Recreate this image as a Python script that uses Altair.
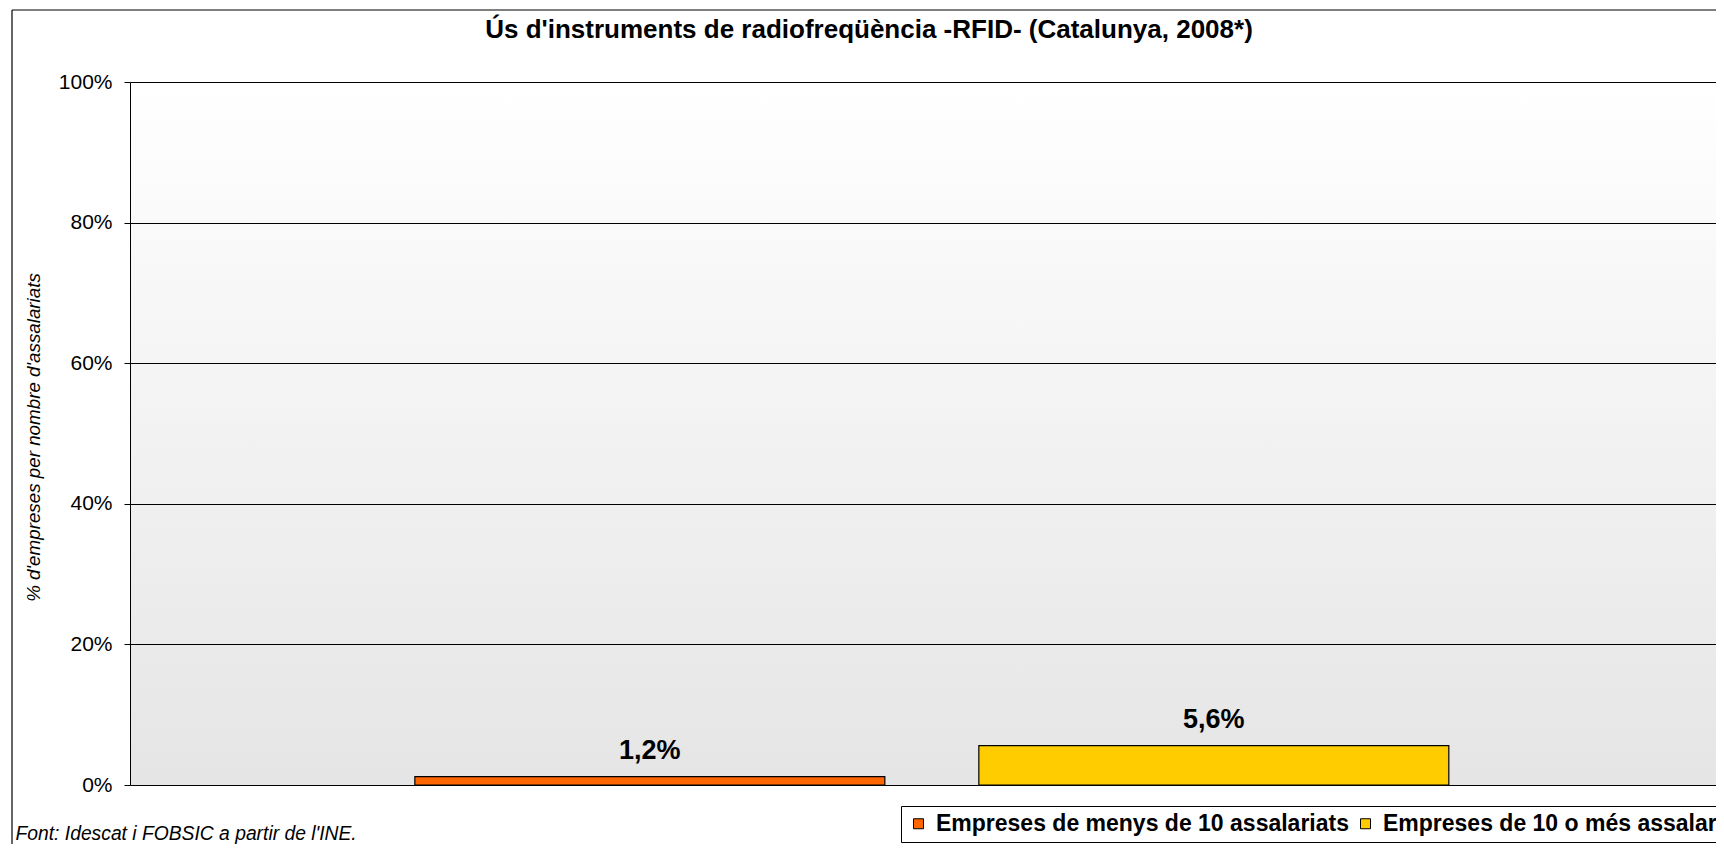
import altair as alt
import pandas as pd

series = ["Empreses de menys de 10 assalariats", "Empreses de 10 o més assalariats"]
values = [0.012, 0.056]
labels = ["1,2%", "5,6%"]
colors = ["#ff6600", "#ffcc00"]
y_ticks = [0, 0.2, 0.4, 0.6, 0.8, 1.0]

title_text = "Ús d'instruments de radiofreqüència -RFID- (Catalunya, 2008*)"
y_title = "% d'empreses per nombre d'assalariats"
source_text = "Font: Idescat i FOBSIC a partir de l'INE."

FONT = "Arial, Liberation Sans, sans-serif"
W, H = 1586, 703

df = pd.DataFrame({"serie": series, "value": values, "label": labels})
one = pd.DataFrame({"k": [0]})

gradient = alt.LinearGradient(
    gradient="linear",
    stops=[alt.GradientStop(color="#ffffff", offset=0),
           alt.GradientStop(color="#e5e5e5", offset=1)],
    x1=0, x2=0, y1=0, y2=1,
)

bg = alt.Chart(one).mark_rect(color=gradient).encode(
    x=alt.value(0), x2=alt.value("width"), y=alt.value(0), y2=alt.value("height")
)

border_top = alt.Chart(one).mark_rule(color="black", strokeWidth=1.2).encode(
    x=alt.value(-118), x2=alt.value(W + 300), y=alt.value(-72)
)
border_left = alt.Chart(one).mark_rule(color="black", strokeWidth=1.2).encode(
    x=alt.value(-118), y=alt.value(-72), y2=alt.value(H + 300)
)

xenc = alt.X(
    "serie:N", sort=series,
    scale=alt.Scale(paddingInner=0.1667, paddingOuter=0.4894, align=0.516),
    axis=alt.Axis(
        title=source_text, labels=False, ticks=False, domain=False,
        titleX=-115, titleY=48, titleAlign="left", titleBaseline="middle",
        titleFont=FONT, titleFontSize=19.3, titleFontStyle="italic",
        titleFontWeight="normal", titleColor="black", titleAnchor="start",
    ),
)
yenc = alt.Y(
    "value:Q",
    scale=alt.Scale(domain=[0, 1]),
    axis=alt.Axis(
        values=y_ticks, format=".0%", grid=True, gridColor="black",
        gridWidth=1, gridOpacity=1, domain=True, domainColor="black",
        domainWidth=1, ticks=True, tickColor="black", tickSize=6,
        labelFont=FONT, labelFontSize=21, labelColor="black", labelPadding=12,
        title=y_title, titleFont=FONT, titleFontSize=18.8, titleFontStyle="italic",
        titleFontWeight="normal", titleColor="black", titleX=-97, titleY=355,
        titleAlign="center", titleBaseline="middle", titleAngle=270, zindex=1,
    ),
)

bars = alt.Chart(df).mark_bar(stroke="black", strokeWidth=1.2).encode(
    x=xenc,
    y=yenc,
    color=alt.Color(
        "serie:N", sort=series,
        scale=alt.Scale(domain=series, range=colors),
        legend=alt.Legend(
            title=None, orient="none", legendX=771, legendY=724,
            direction="horizontal", strokeColor="black", fillColor="white",
            padding=6, symbolType="square", symbolSize=100,
            symbolStrokeColor="black", symbolStrokeWidth=1,
            labelFont=FONT, labelFontSize=23, labelFontWeight="bold",
            labelColor="black", columnPadding=5, labelOffset=6, labelLimit=800,
        ),
    ),
)

text = alt.Chart(df).mark_text(
    font=FONT, fontSize=27, fontWeight="bold", color="black",
    baseline="middle", dy=-26,
).encode(x=alt.X("serie:N", sort=series), y="value:Q", text="label:N")

chart = alt.layer(bg, bars, text, border_top, border_left).properties(
    width=W, height=H,
    title=alt.TitleParams(
        title_text, font=FONT, fontSize=26, fontWeight="bold", color="black",
        anchor="middle", dx=-54, offset=-34,
    ),
    autosize=alt.AutoSizeParams(type="none"),
    padding={"left": 122, "top": 74, "right": 0, "bottom": 59},
).configure_view(stroke=None).configure(background="white")

chart.save("out.html", embed_options={"renderer": "svg", "actions": False})
